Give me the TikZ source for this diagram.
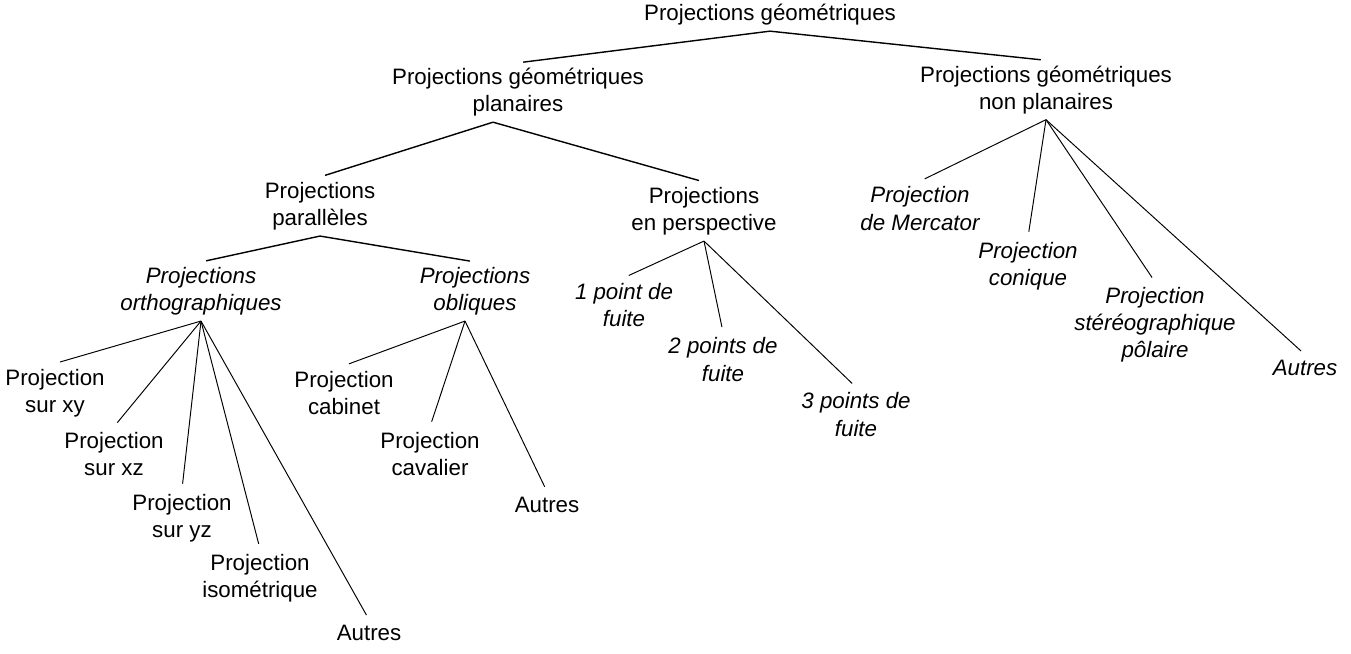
\documentclass[tikz,border=0pt]{standalone}
\usepackage{fontspec}
\setmainfont{Liberation Sans}
\begin{document}
\begin{tikzpicture}[x=0.02cm,y=-0.02cm,
        every node/.style={align=center,inner sep=3pt,font=\fontsize{12.7}{15.4}\selectfont},
        it/.style={font=\fontsize{12.7}{15.4}\selectfont\itshape},
        branch/.style={line width=0.55pt,shorten >=3pt},
        trunk/.style={line width=0.8pt,shorten >=3pt}]
                \useasboundingbox (0,0) rectangle (1351,653);
                \node (root) at (770,15) {Projections géométriques};
                \node (plan) at (518,92.5) {Projections géométriques\\planaires};
                \node (nonplan) at (1046,90) {Projections géométriques\\non planaires};
                \node (para) at (320,206.5) {Projections\\parallèles};
                \node (persp) at (704,211.5) {Projections\\en perspective};
                \node[it] (ortho) at (201,291.5) {Projections\\orthographiques};
                \node[it] (obl) at (475,291.5) {Projections\\obliques};
                \node (xy) at (55,393) {Projection\\sur xy};
                \node (xz) at (114,454) {Projection\\sur xz};
                \node (yz) at (182,518.5) {Projection\\sur yz};
                \node (iso) at (260,578.5) {Projection\\isométrique};
                \node (autresA) at (369,633) {Autres};
                \node (cab) at (344,393) {Projection\\cabinet};
                \node (cav) at (430,454) {Projection\\cavalier};
                \node (autresB) at (547,505) {Autres};
                \node[it] (ptA) at (624,305) {1 point de\\fuite};
                \node[it] (ptB) at (723,359.5) {2 points de\\fuite};
                \node[it] (ptC) at (856,414.5) {3 points de\\fuite};
                \node[it] (merc) at (920,208.5) {Projection\\de Mercator};
                \node[it] (con) at (1028,266.5) {Projection\\conique};
                \node[it] (ster) at (1155,325) {Projection\\stéréographique\\pôlaire};
                \node[it] (autresC) at (1305,368) {Autres};
                % upper levels
                \draw[trunk] (root.south) -- (plan.north);
                \draw[trunk] (root.south) -- (nonplan.north);
                \draw[trunk] ([xshift=-0.5cm]plan.south) -- (para.north);
                \draw[trunk] ([xshift=-0.5cm]plan.south) -- (persp.north);
                \draw[trunk] (para.south) -- (ortho.north);
                \draw[trunk] (para.south) -- (obl.north);
                % leaves
                \foreach \leaf in {xy,xz,yz,iso,autresA}
                    \draw[branch] (ortho.south) -- (\leaf.north);
                \foreach \leaf in {cab,cav,autresB}
                    \draw[branch] ([xshift=-0.2cm]obl.south) -- (\leaf.north);
                \foreach \leaf in {ptA,ptB,ptC}
                    \draw[branch] (persp.south) -- (\leaf.north);
                \foreach \leaf in {merc,con,ster,autresC}
                    \draw[branch] (nonplan.south) -- (\leaf.north);
            \end{tikzpicture}
\end{document}
